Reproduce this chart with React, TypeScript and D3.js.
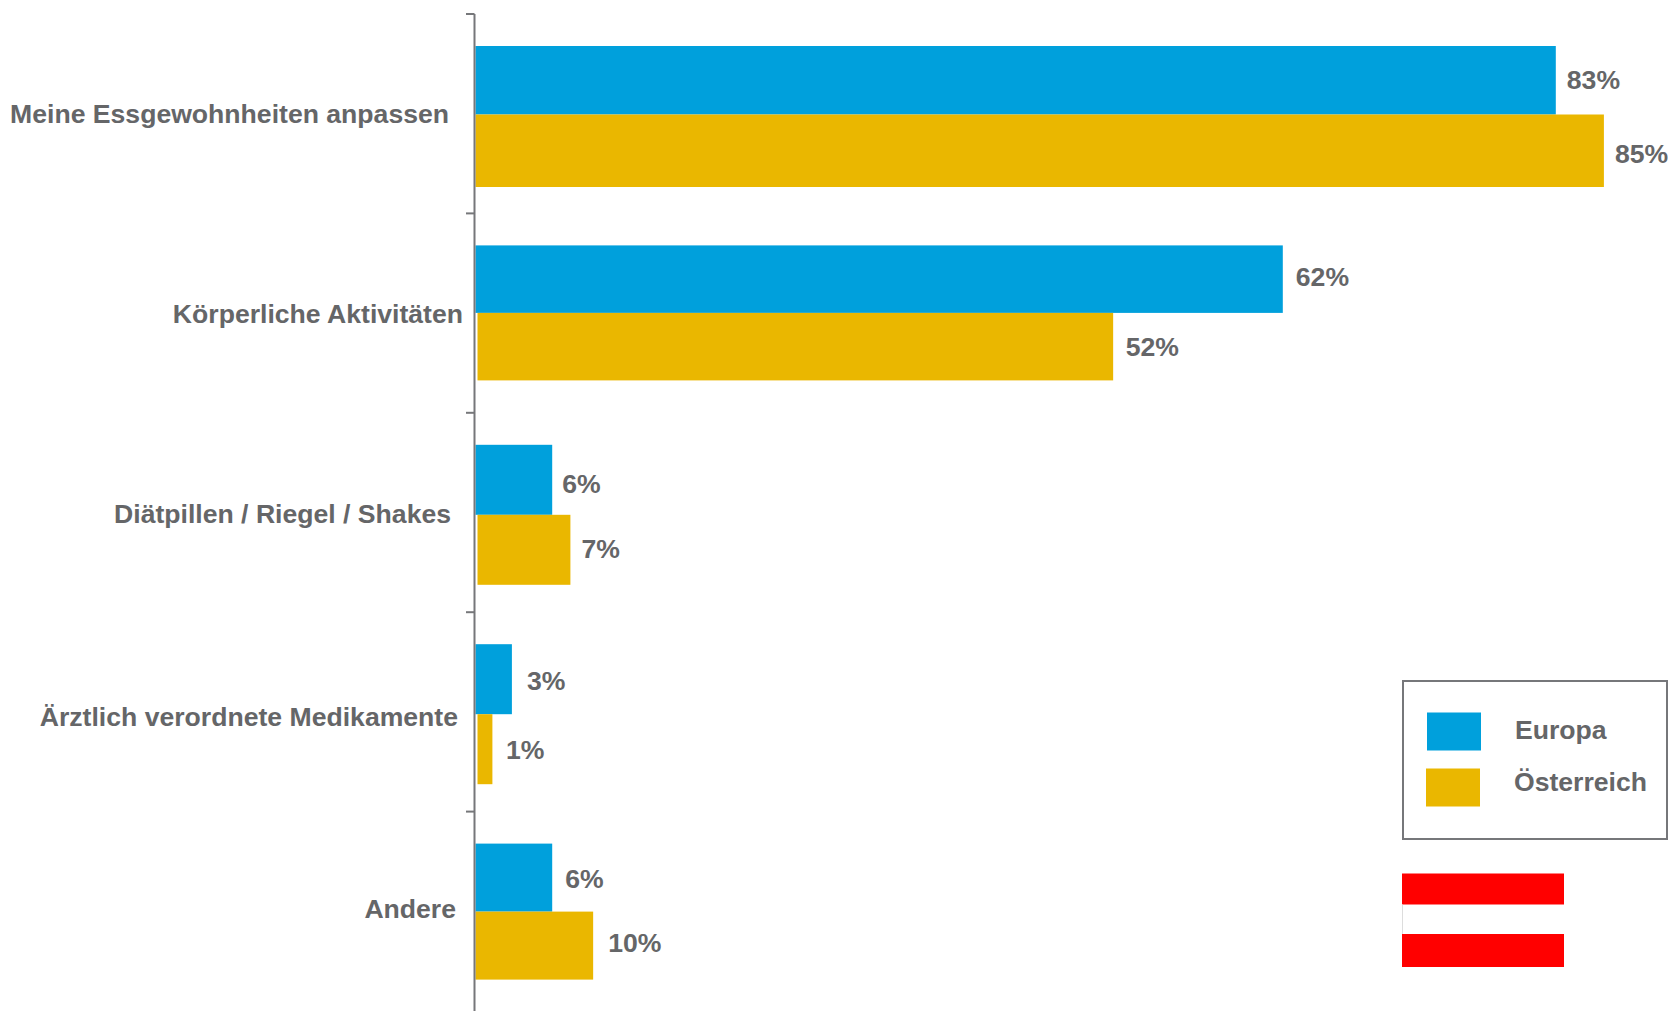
import React from "react";
import * as d3 from "d3";

const categories = [
  "Meine Essgewohnheiten anpassen",
  "Körperliche Aktivitäten",
  "Diätpillen / Riegel / Shakes",
  "Ärztlich verordnete Medikamente",
  "Andere",
];
const seriesNames = ["Europa", "Österreich"];
// Bar lengths; printed labels are kept separately.
const europaValues = [83.1, 62.1, 5.9, 2.8, 5.9];
const oesterreichValues = [86.8, 49.05, 7.3, 1.3, 9.05];
const europaLabels = ["83%", "62%", "6%", "3%", "6%"];
const oesterreichLabels = ["85%", "52%", "7%", "1%", "10%"];

const BLUE = "#00A0DC";
const GOLD = "#EAB700";
const TEXT = "#656668";
const AXIS = "#76777A";
const FONT = "'Liberation Sans', Arial, sans-serif";

// layout
const W = 1668, H = 1011;
const axisX = 474.5;
const barSpan = [141, 135, 140, 140, 136];
const splitShift = [-2, 0, 0, 0, 0];
const goldInset = [0, 2, 2, 2, 0];
const catRight = [449, 463, 451, 458, 456];
const catDy = [-1, 0, 0, 4, -3];
const europaLabelGap = [11, 13, 10, 15, 13];
const goldLabelGap = [11, 12.5, 11, 13.5, 15];
const europaLabelDy = [-1, -2, 4, 2, 1];
const goldLabelDy = [2, 0, -0.5, 1, -3];

const row = d3.scaleBand<string>().domain(categories).range([14, H]);
const x = d3.scaleLinear().domain([0, 100]).range([axisX + 1, axisX + 1 + 1300]);
const inner = (i: number) =>
  d3.scaleBand<string>().domain(seriesNames).range([32, 32 + barSpan[i]]);

export default function App() {
  const ticks = categories.map((c) => row(c)!);
  return (
    <svg
      width={W}
      height={H}
      viewBox={`0 0 ${W} ${H}`}
      style={{ position: "absolute", left: 0, top: 0, background: "#fff" }}
      fontFamily={FONT}
      fontWeight={700}
      fontSize={26.6}
      fill={TEXT}
    >
      {categories.map((c, i) => {
        const r = row(c)!;
        const s = inner(i);
        const bw = s.bandwidth();
        const yE = r + s("Europa")!;
        const yO = r + s("Österreich")!;
        const split = yO + splitShift[i];
        const gx = x(0) + goldInset[i];
        return (
          <g key={c}>
            <text
              x={catRight[i]}
              y={r + row.bandwidth() / 2 + 10 + catDy[i]}
              textAnchor="end"
            >
              {c}
            </text>
            <rect x={x(0)} y={yE} width={x(europaValues[i]) - x(0)} height={split - yE} fill={BLUE} />
            <rect x={gx} y={split} width={x(oesterreichValues[i]) - gx} height={yO + bw - split} fill={GOLD} />
            <text x={x(europaValues[i]) + europaLabelGap[i]} y={yE + bw / 2 + 9 + europaLabelDy[i]}>
              {europaLabels[i]}
            </text>
            <text x={x(oesterreichValues[i]) + goldLabelGap[i]} y={yO + bw / 2 + 9 + goldLabelDy[i]}>
              {oesterreichLabels[i]}
            </text>
          </g>
        );
      })}
      <line x1={axisX} x2={axisX} y1={14} y2={H} stroke={AXIS} strokeWidth={2} />
      {ticks.map((t) => (
        <line key={t} x1={466} x2={axisX} y1={t} y2={t} stroke={AXIS} strokeWidth={2} />
      ))}
      <g>
        <rect x={1403} y={681} width={264} height={158} fill="#fff" stroke={AXIS} strokeWidth={2} />
        <rect x={1427} y={712.5} width={54} height={38} fill={BLUE} />
        <rect x={1426} y={768.5} width={54} height={38} fill={GOLD} />
        <text x={1515} y={739}>{seriesNames[0]}</text>
        <text x={1514} y={791}>{seriesNames[1]}</text>
      </g>
      <g>
        <rect x={1402} y={873.5} width={162} height={31} fill="#FF0000" />
        <rect x={1402} y={934} width={162} height={33} fill="#FF0000" />
        <line x1={1402.5} x2={1402.5} y1={904.5} y2={934} stroke="#DDDDDD" strokeWidth={1} />
      </g>
    </svg>
  );
}
